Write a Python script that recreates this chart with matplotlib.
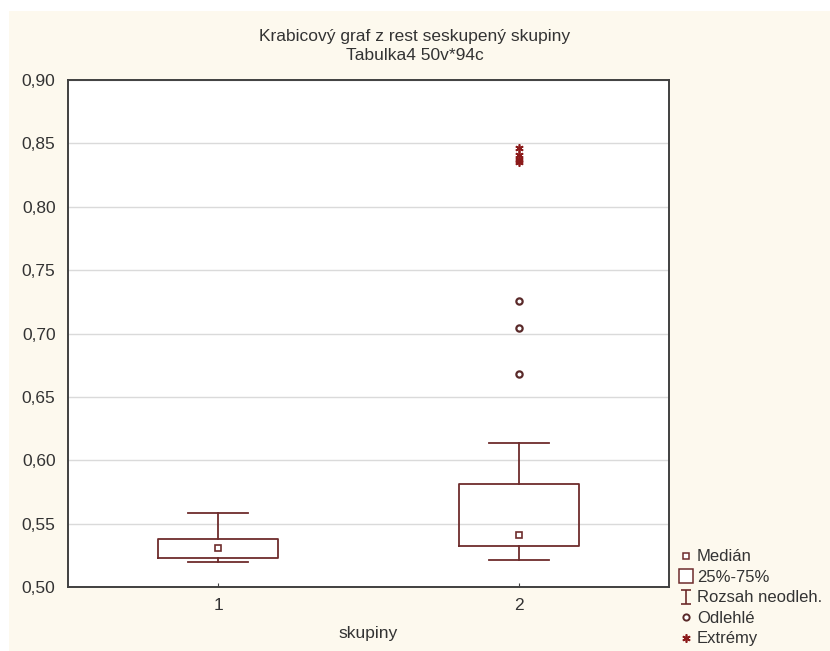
import matplotlib.pyplot as plt
from matplotlib.path import Path
from matplotlib.lines import Line2D

plt.rcParams['font.family'] = ['Liberation Sans', 'DejaVu Sans']

# hodnoty
skupiny = ['1', '2']
median = [0.531, 0.541]
q1 = [0.523, 0.532]
q3 = [0.538, 0.581]
whis_lo = [0.520, 0.5215]
whis_hi = [0.5585, 0.614]
odlehle_2 = [0.668, 0.704, 0.726]
extremy_2 = [0.835, 0.837, 0.841, 0.846]
yticks = [0.50, 0.55, 0.60, 0.65, 0.70, 0.75, 0.80, 0.85, 0.90]

barva = '#6e2c2c'
text_c = '#333333'
fs = 12.5

fig = plt.figure(figsize=(8.30, 6.51), dpi=100)
fig.patch.set_facecolor('white')
# krémové pozadí
fig.patches.append(plt.Rectangle((9 / 830, 0), 1, 1 - 11 / 651, transform=fig.transFigure,
                                 facecolor='#fdf9ee', edgecolor='none', zorder=-10))

ax = fig.add_axes([68 / 830, 1 - 587 / 651, 601 / 830, 507 / 651])
ax.set_facecolor('white')

stats = []
for i in range(len(skupiny)):
    stats.append({'med': median[i], 'q1': q1[i], 'q3': q3[i],
                  'whislo': whis_lo[i], 'whishi': whis_hi[i], 'fliers': []})

pos = [1, 2]
ax.bxp(stats, positions=pos, widths=0.4, showfliers=False,
       boxprops=dict(color=barva, linewidth=1.3),
       whiskerprops=dict(color=barva, linewidth=1.3),
       capprops=dict(color=barva, linewidth=1.3),
       medianprops=dict(linewidth=0), capwidths=0.2)

ax.plot(pos, median, linestyle='none', marker='s', markersize=5,
        markerfacecolor='white', markeredgecolor=barva, markeredgewidth=1.2, zorder=5)
ax.plot([2] * len(odlehle_2), odlehle_2, linestyle='none', marker='o', markersize=4.5,
        markerfacecolor='white', markeredgecolor='#5a2a2a', markeredgewidth=1.6, zorder=5)
ax.plot([2] * len(extremy_2), extremy_2, linestyle='none', marker=(6, 2, 0), markersize=6,
        color='#8b1a1a', markeredgewidth=1.2, zorder=5)

ax.set_xlim(0.5, 2.5)
ax.set_ylim(0.50, 0.90)
ax.set_yticks(yticks)
ax.set_yticklabels([('%.2f' % v).replace('.', ',') for v in yticks])
ax.set_xticks(pos)
ax.set_xticklabels(skupiny)
ax.tick_params(direction='in', length=3, colors='#404040', labelcolor=text_c, labelsize=fs)
ax.tick_params(axis='y', length=0, pad=9)
ax.tick_params(axis='x', pad=8)
ax.grid(axis='y', color='#dadada', linewidth=1)
ax.set_axisbelow(True)
for s in ax.spines.values():
    s.set_color('#404040')
    s.set_linewidth(1.4)

ax.set_xlabel('skupiny', color=text_c, fontsize=fs, labelpad=9)
fig.text(0.5, 1 - 36 / 651, 'Krabicový graf z rest seskupený skupiny',
         ha='center', va='center', color=text_c, fontsize=fs)
fig.text(0.5, 1 - 56 / 651, 'Tabulka4 50v*94c',
         ha='center', va='center', color=text_c, fontsize=fs)

# legenda
i_marker = Path([(-0.7, 1), (0.7, 1), (0, 1), (0, -1), (-0.7, -1), (0.7, -1)],
                [Path.MOVETO, Path.LINETO, Path.MOVETO, Path.LINETO, Path.MOVETO, Path.LINETO])
handles = [
    Line2D([], [], linestyle='none', marker='s', markersize=4.5, markerfacecolor='white',
           markeredgecolor=barva, markeredgewidth=1.1),
    Line2D([], [], linestyle='none', marker='s', markersize=9.5, markerfacecolor='white',
           markeredgecolor=barva, markeredgewidth=1.1),
    Line2D([], [], linestyle='none', marker=i_marker, markersize=10.5, color=barva,
           markeredgewidth=1.2),
    Line2D([], [], linestyle='none', marker='o', markersize=4.5, markerfacecolor='white',
           markeredgecolor='#5a2a2a', markeredgewidth=1.4),
    Line2D([], [], linestyle='none', marker=(6, 2, 0), markersize=6, color='#8b1a1a',
           markeredgewidth=1.2),
]
labels = ['Medián', '25%-75%', 'Rozsah neodleh.', 'Odlehlé', 'Extrémy']
fig.legend(handles, labels, loc='upper left', bbox_to_anchor=(671 / 830, 1 - 541 / 651),
           frameon=False, fontsize=12, handlelength=0.8, handletextpad=0.25,
           labelspacing=0.33, borderpad=0, labelcolor=text_c)

fig.savefig('out.png', dpi=100, facecolor=fig.get_facecolor())
